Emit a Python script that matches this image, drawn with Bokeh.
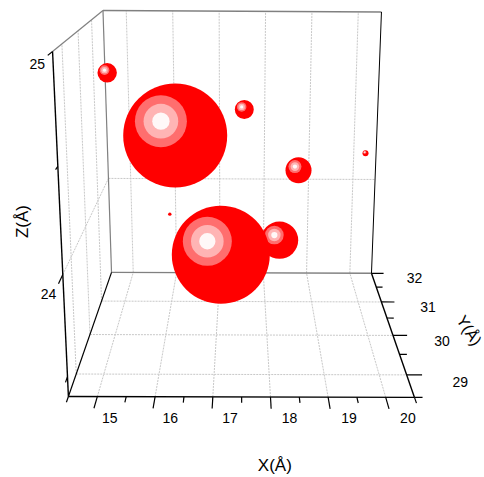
import numpy as np
from bokeh.plotting import figure
from bokeh.embed import file_html
from bokeh.resources import INLINE
from bokeh.core.properties import value

# ---- data ----
bubble_x = [14.662, 16.186, 17.543, 18.670, 19.936, 16.118, 17.110, 18.260]
bubble_y = [31.5, 30.5, 31.0, 31.0, 30.5, 30.0, 29.5, 30.5]
bubble_z = [24.678, 24.426, 24.519, 24.179, 24.335, 24.067, 23.931, 23.850]
bubble_size = [19.4, 104, 19, 26, 6, 3.4, 98, 37.4]
x_major = [15, 16, 17, 18, 19, 20]
x_minor = [14.5, 15.5, 16.5, 17.5, 18.5, 19.5, 20.5]
y_major = [29, 30, 31, 32]
y_minor = [28.5, 29.5, 30.5, 31.5]
z_major = [24, 25]
z_minor = [23.5, 24.5]
x_title, y_title, z_title = "X(Å)", "Y(Å)", "Z(Å)"

X_LIM = (14.5, 20.5); Y_LIM = (28.5, 32.0); Z_LIM = (23.4, 25.0)
xa, xb = X_LIM; ya, yb = Y_LIM; za, zb = Z_LIM

# ---- camera: fitted to where the box corners and ticks lie in the picture ----
CTRL = [((xa,ya,za),(68,396),6),((xb,ya,za),(414,397),6),((xa,yb,za),(111,272),6),((xb,yb,za),(371,272.7),6),
        ((xa,yb,zb),(102.5,10),6),((xb,yb,zb),(381,11.5),6),((xa,ya,zb),(52,51),6),
        ((15,ya,za),(95.7,396),1),((20,ya,za),(386,396.8),1),((xb,29,za),(405,374),1),((xb,30,za),(392,335),1),
        ((xb,31,za),(379.7,301.7),1),((xa,yb,24),(108,178),1),((xb,yb,24),(373.7,179),1),((xa,ya,24),(62,273),1),
        ((17,yb,zb),(219,11),1)]
A, B = [], []
for w, s, k in CTRL:
    h = [*w, 1]
    A.append([k*c for c in h + [0,0,0,0] + [-s[0]*c for c in w]]); B.append(k*s[0])
    A.append([k*c for c in [0,0,0,0] + h + [-s[1]*c for c in w]]); B.append(k*s[1])
sol = np.linalg.lstsq(np.array(A, float), np.array(B, float), rcond=None)[0]
P = np.append(sol, 1).reshape(3, 4)

def proj(x, y, z):
    v = P @ np.array([x, y, z, 1.0])
    return v[0]/v[2], v[1]/v[2]

p = figure(width=484, height=477, x_range=(0, 484), y_range=(477, 0), toolbar_location=None,
           output_backend="svg", min_border=0, outline_line_color=None)
p.axis.visible = False; p.grid.visible = False

def seg(a, b, color, width=1.0, dash="solid"):
    (x0, y0), (x1, y1) = proj(*a), proj(*b)
    p.line([x0, x1], [y0, y1], line_color=color, line_width=width, line_dash=dash)

GRID = "#c8c8c8"
FRAME = "#808080"
for x in x_major:
    seg((x,ya,za), (x,yb,za), GRID, 1, "2 1")
    seg((x,yb,za), (x,yb,zb), GRID, 1, "2 1")
for y in y_major[:-1]:
    seg((xa,y,za), (xb,y,za), GRID, 1, "2 1")
    seg((xa,y,za), (xa,y,zb), GRID, 1, "2 1")
for z in z_major[:-1]:
    seg((xa,ya,z), (xa,yb,z), GRID, 1, "2 1")
    seg((xa,yb,z), (xb,yb,z), GRID, 1, "2 1")

seg((xa,ya,zb), (xa,yb,zb), FRAME, 1.2)
seg((xa,yb,zb), (xb,yb,zb), FRAME, 1.4)
seg((xa,yb,za), (xa,yb,zb), FRAME, 1.2)
seg((xa,yb,za), (xb,yb,za), FRAME, 1.4)
seg((xa,ya,za), (xa,ya,zb), "black", 1.4)
seg((xa,ya,za), (xb,ya,za), "black", 1.4)
seg((xb,ya,za), (xb,yb,za), "black", 1.4)
seg((xa,ya,za), (xa,yb,za), "black", 1.2)
seg((xb,yb,za), (xb,yb,zb), "black", 1.0)

TX, TY = 0.24, 0.28
for x in x_major: seg((x,ya,za), (x,ya-TX,za), "black", 1.2)
for x in x_minor: seg((x,ya,za), (x,ya-TX/2,za), "black", 1.2)
for y in y_major: seg((xb,y,za), (xb+TY,y,za), "black", 1.2)
for y in y_minor: seg((xb,y,za), (xb+TY/2,y,za), "black", 1.2)
for z in z_major: seg((xa,ya,z), (xa,ya-TX,z), "black", 1.2)
for z in z_minor: seg((xa,ya,z), (xa,ya-TX/2,z), "black", 1.2)

FONT = value("Liberation Sans")
cx, cy = zip(*[proj(*t) for t in zip(bubble_x, bubble_y, bubble_z)])
cx, cy, sz = np.array(cx), np.array(cy), np.array(bubble_size)
for i in [1, 3, 4, 0, 2, 5, 7, 6]:
    r = sz[i] / 2
    p.scatter([cx[i]], [cy[i]], size=sz[i], marker="circle", fill_color="#ff0000", line_color=None)
    if r > 2:
        hx, hy = cx[i] - .275*r, cy[i] - .275*r
        for frac, col in ((1.0, "#ff6e6e"), (2/3, "#ffb4b4"), (1/3, "#fff8f8")):
            p.scatter([hx], [hy], size=sz[i]*frac*0.5, marker="circle", fill_color=col, line_color=None)

def label(x, y, t, size="14px", angle=0.0):
    p.text([x], [y], text=[t], text_font=FONT, text_font_size=size, text_align="center",
           text_baseline="middle", angle=angle, text_color="black")

for x, off in zip(x_major, (12.5, 15.2, 17.2, 19, 20.8, 22.2)):
    label(proj(x, ya, za)[0] + off, 417.5, str(x))
for y, du, dv in zip(y_major, (53.7, 49, 46.6, 43), (6.7, 5.6, 4.6, 4.6)):
    u, v = proj(xb, y, za)
    label(u + du, v + dv, str(y))
label(36.7, 63.7, "25")
label(48, 293.3, "24")
label(274.3, 465, x_title, "17px")
label(22, 221, z_title, "17px", np.pi/2)
label(468.5, 330, y_title, "16px", -np.radians(57))

open("out.html", "w").write(file_html(p, INLINE))
